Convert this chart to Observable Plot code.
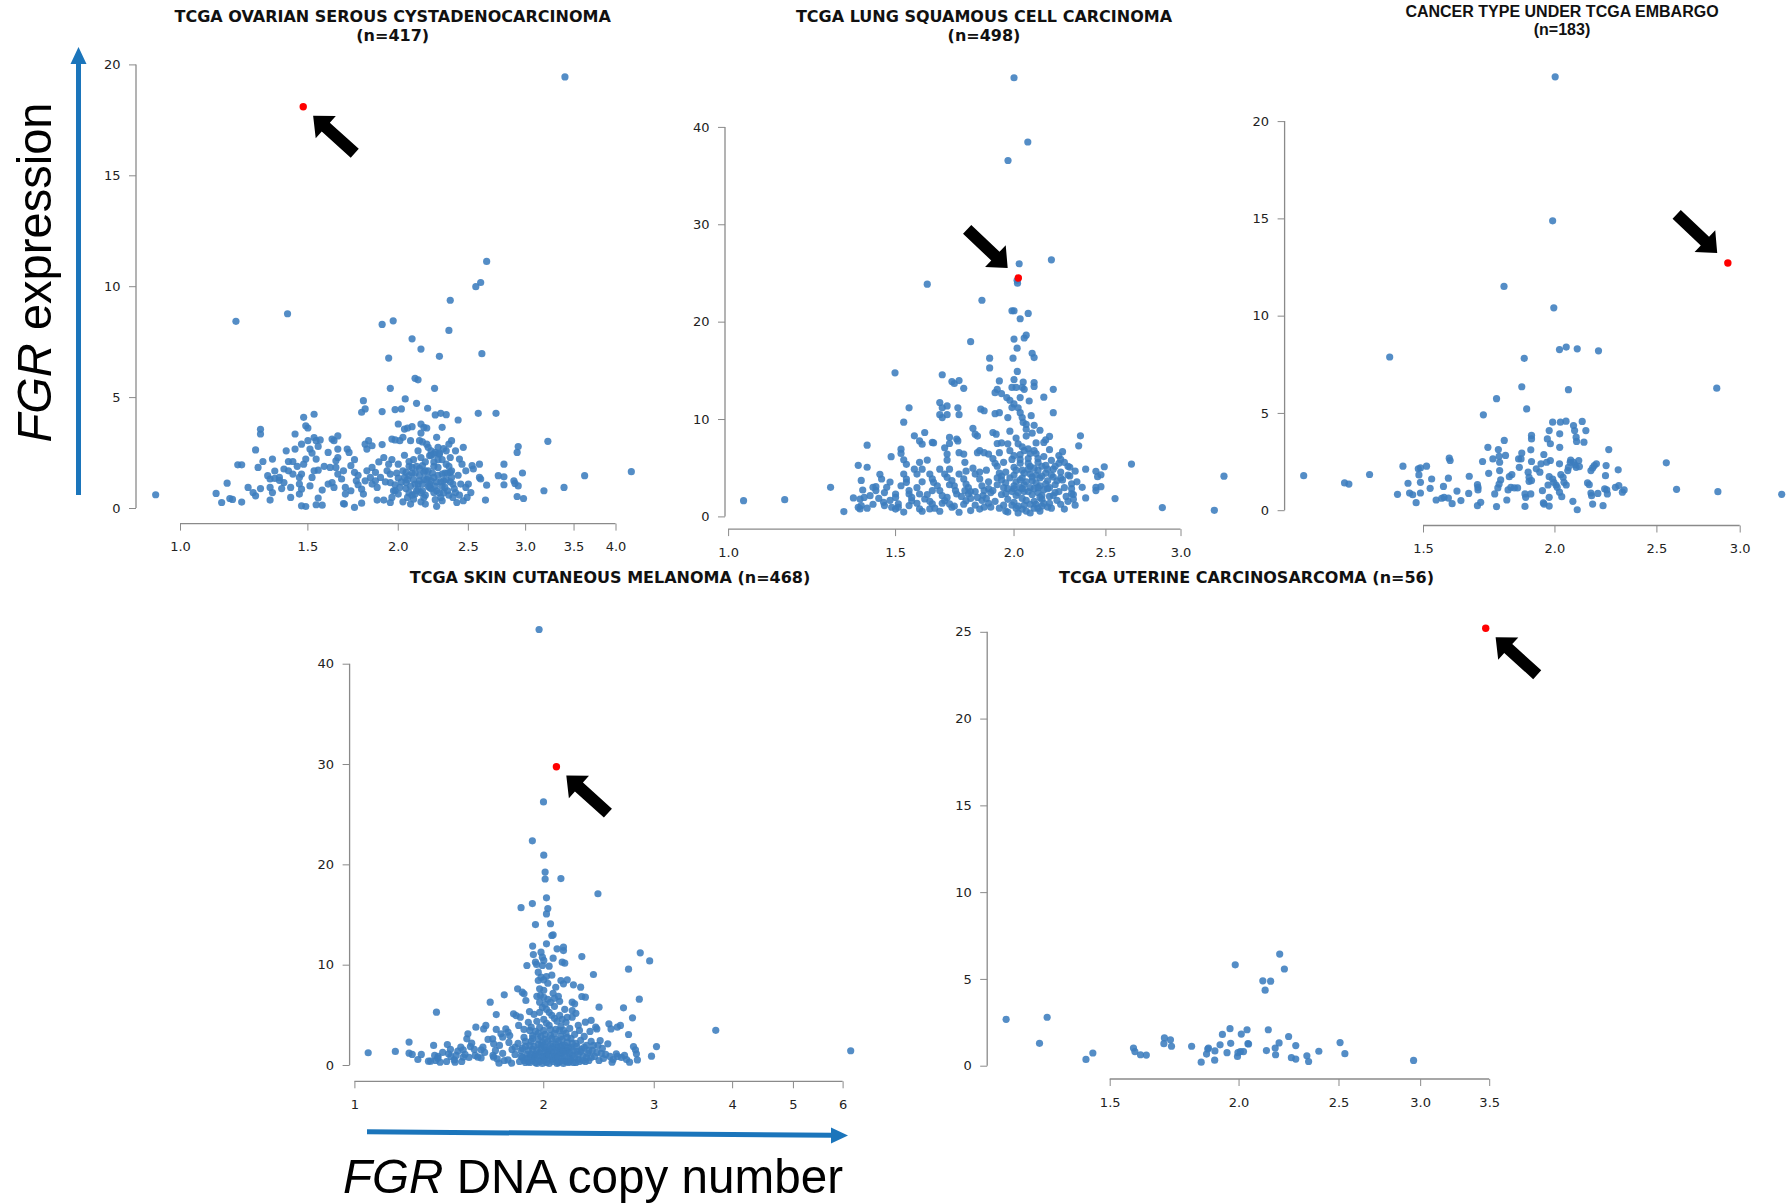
<!DOCTYPE html>
<html><head><meta charset="utf-8">
<script src="https://cdn.jsdelivr.net/npm/d3@7"></script>
<script src="https://cdn.jsdelivr.net/npm/@observablehq/plot@0.6"></script>
<style>
html,body{margin:0;padding:0;background:#fff;}
#page{position:relative;width:1787px;height:1203px;overflow:hidden;background:#fff;font-family:"DejaVu Sans",sans-serif;}
.panel{position:absolute;}
.title{position:absolute;transform:translate(-50%,-50%);white-space:nowrap;font-weight:bold;font-size:16px;color:#111;line-height:18px;}
#overlay{position:absolute;left:0;top:0;}
</style></head><body><div id="page"></div>
<script>
// ---------------- DATA: [FGR DNA copy number, FGR expression] ----------------
const ovarianPoints = [[3.40,19.46],[2.65,11.14],[2.60,10.19],[2.56,10.0],[2.36,9.39],[2.35,8.03],[2.61,6.98],[1.193,8.44],[1.406,8.78],[1.90,8.30],[1.968,8.46],[2.09,7.65],[2.15,7.19],[2.28,6.86],[1.94,6.78],
[2.11,5.87],[2.13,5.8],[1.95,5.42],[2.245,5.42],[2.045,4.94],[1.79,4.86],[1.80,4.49],[1.78,4.34],[1.90,4.37],[1.98,4.46],[2.02,4.49],[2.12,4.74],[2.196,4.52],[2.25,4.22],[2.29,4.29],[2.33,4.23],[2.42,3.99],[2.58,4.29],[2.73,4.29],
[1.48,4.11],[1.49,3.73],[1.50,3.63],[1.53,4.25],[1.29,3.57],[1.29,3.36],[1.27,2.64],[1.20,1.97],[1.215,1.97],[1.16,1.14],[1.12,0.68],[1.14,0.27],[1.17,0.45],[1.18,0.41],[1.215,0.29],[1.24,0.95],[0.924,0.62],[1.26,0.72],[1.27,0.57],[1.30,2.12],[1.28,1.85],[1.34,2.23],[1.32,1.48],[1.33,1.33],[1.35,1.36],[1.37,1.27],[1.35,1.69],[1.33,0.95],[1.34,0.72],[1.33,0.38],[1.29,0.9],
[1.40,2.6],[1.44,3.36],[1.44,2.68],[1.41,2.12],[1.43,2.12],[1.39,1.78],[1.41,1.70],[1.37,1.4],[1.39,1.17],[1.42,0.95],[1.43,1.55],[1.46,1.4],[1.47,1.55],[1.46,1.1],[1.47,0.87],[1.46,0.65],[1.47,0.12],[1.49,0.09],[1.48,2.0],[1.49,2.23],[1.50,3.06],[1.47,2.9],[1.51,2.68],[1.52,2.5],[1.53,3.2],[1.54,3.06],[1.51,1.02],[1.52,1.4],[1.54,2.23],[1.55,1.73],[1.55,2.8],[1.56,3.09],[1.55,0.47],[1.54,0.17],[1.57,0.15],[1.57,0.83],
[1.60,2.53],[1.61,1.85],[1.62,3.13],[1.63,3.06],[1.65,3.27],[1.64,2.15],[1.65,2.3],[1.64,1.85],[1.62,1.17],[1.60,1.1],[1.63,0.95],[1.65,1.55],[1.67,1.33],[1.65,2.68],[1.70,2.68],[1.68,0.22],[1.685,0.2],[1.69,0.95],[1.69,0.65],[1.71,2.53],[1.74,2.2],[1.72,1.93],[1.74,1.63],[1.74,0.05],[1.75,1.25],[1.76,1.07],[1.78,0.87],[1.79,0.65],[1.78,0.24],
[1.80,2.9],[1.81,2.68],[1.82,3.06],[1.84,2.83],[1.81,1.7],[1.83,1.4],[1.80,1.25],[1.84,1.85],[1.86,1.63],[1.87,0.95],[1.86,1.25],[1.89,1.4],[1.87,0.38],[1.91,0.38],[1.91,2.3],[1.90,2.88],[1.94,2.0],[1.93,1.7],[1.95,1.55],[1.96,2.21],[1.96,3.13],[1.98,3.09],[1.95,0.27],[1.96,0.5],[1.97,0.8],[1.95,1.17],
[2.0,3.81],[2.01,3.06],[2.03,3.21],[2.0,1.37],[1.98,1.07],[2.01,0.95],[2.0,0.65],[2.04,1.4],[2.05,1.63],[2.07,1.48],[2.05,1.17],[2.04,3.58],[2.06,3.63],[2.09,3.69],[2.08,3.06],[2.07,2.12],[2.09,1.85],[2.08,0.2],[2.1,0.42],[2.11,0.65],[2.11,1.1],[2.13,0.87],[2.14,1.25],[2.15,3.4],[2.15,3.81],[2.17,3.66],[2.14,3.06],[2.16,3.0],[2.15,2.3],[2.16,1.93],[2.17,1.63],[2.17,0.5],[2.18,0.2],[2.15,0.72],
[2.2,2.76],[2.21,2.38],[2.22,2.6],[2.24,2.45],[2.25,2.53],[2.19,3.63],[2.2,1.4],[2.22,1.25],[2.21,0.95],[2.24,0.72],[2.26,3.21],[2.27,2.76],[2.28,2.45],[2.3,3.66],
[2.27,1.85],[2.3,1.55],[2.31,1.25],[2.32,0.95],[2.29,0.5],[2.3,0.35],[2.26,0.1],[2.33,2.6],[2.35,2.9],[2.36,2.3],[2.36,1.63],[2.37,1.4],[2.38,1.1],[2.4,0.72],[2.41,0.27],[2.37,3.06],[2.4,2.6],[2.43,2.23],[2.45,2.0],[2.46,2.76],[2.48,1.7],[2.48,0.95],[2.46,0.35],[2.5,1.1],[2.52,0.72],[2.49,0.5],[2.53,1.93],[2.54,1.78],[2.59,2.0],[2.59,1.4],[2.6,1.33],[2.64,0.38],[2.65,1.05],[2.75,1.48],[2.8,2.0],[2.8,1.43],[2.8,1.07],[2.89,1.25],[2.9,1.13],[2.93,1.02],[2.92,2.53],[2.93,2.79],[2.92,0.54],[2.98,0.45],[2.97,1.6],[3.18,0.8],[3.22,3.03],[3.39,0.95],[3.62,1.48],[4.2,1.66],
[2.02,1.2],[2.05,0.9],[2.08,1.0],[2.1,1.3],[2.12,0.8],[2.14,1.5],[2.16,1.1],[2.18,0.6],[2.2,1.7],[2.22,0.9],[2.24,1.4],[2.26,1.2],[2.28,0.7],[2.3,1.0],[2.32,1.6],[2.34,0.8],[2.36,1.2],[2.38,0.5],[2.06,0.5],[2.12,1.9],[2.18,2.1],[2.24,1.9],[2.3,2.2],[2.0,2.0],[1.98,0.8],[2.15,0.3],[2.25,0.4],[2.35,1.9],[2.22,2.4],[2.28,2.5],[2.13,2.6],[2.19,2.9],[2.04,2.4],[2.1,2.2],[1.92,1.2],[1.88,2.1],[1.84,1.1],[1.76,1.5],[1.72,0.8],[1.68,1.7],[1.58,1.9],[1.53,1.7],[1.45,1.9],[1.42,0.5],[1.38,0.9],[2.42,1.5],[2.44,1.1],[2.33,2.0],[2.27,2.2],[2.21,1.1],[2.17,1.3],[2.09,1.6],[2.07,0.7],[2.03,0.3],[1.99,1.6],[2.39,0.9],[2.35,0.6],[2.43,0.6],[2.26,0.8],[2.31,2.7],
[2.03,1.7],[2.06,1.3],[2.09,0.6],[2.11,1.6],[2.13,1.1],[2.16,0.8],[2.18,1.7],[2.2,1.0],[2.23,1.6],[2.25,1.0],[2.27,1.5],[2.29,1.2],[2.31,0.7],[2.33,1.3],[2.34,1.6],[2.19,1.3],[2.14,1.8],[2.07,1.9],[2.24,2.1],[2.37,1.7]];
const ovarianHighlight = [[1.478,18.11]];

const lungPoints = [[2.0,45.1],[2.068,38.5],[1.971,36.6],[2.19,26.4],[2.025,26.0],[2.015,24.3],[2.017,24.0],[1.62,23.9],[1.85,22.25],[1.99,21.17],[2.0,21.17],[2.07,20.9],[2.03,20.35],[1.80,18.0],[2.0,18.26],[2.05,18.37],[2.06,18.66],[2.015,17.33],[2.09,16.8],[2.1,16.36],[1.885,16.3],[1.995,16.3],[1.885,15.3],[1.498,14.8],[1.68,14.6],[2.016,14.94],
[1.037,1.67],[1.146,1.77],[1.281,3.04],[1.323,0.55],[1.354,1.95],[1.37,0.99],[1.376,0.82],[1.38,1.16],[1.376,1.84],[1.39,2.0],[1.37,5.3],[1.40,5.1],[1.40,7.37],[1.38,3.75],[1.385,2.76],[1.41,2.18],[1.42,3.04],[1.43,3.1],[1.43,2.7],[1.444,4.37],[1.45,3.89],[1.457,1.5],[1.46,1.16],[1.468,3.04],[1.48,3.58],[1.484,6.18],[1.486,0.99],[1.5,2.35],[1.5,2.0],[1.51,1.33],[1.51,0.99],[1.52,6.96],[1.52,6.52],[1.53,5.87],[1.54,5.4],[1.53,9.73],[1.53,4.4],[1.54,3.89],[1.54,3.55],[1.55,2.7],[1.55,2.35],[1.56,1.67],[1.55,1.16],[1.55,11.2],[1.57,8.33],[1.59,7.8],[1.6,7.47],[1.57,4.9],[1.58,4.4],[1.59,5.6],[1.6,4.9],[1.58,3.0],[1.59,2.35],[1.61,1.84],[1.59,0.82],[1.6,0.58],[1.61,8.67],[1.62,5.84],[1.64,7.65],[1.645,7.6],[1.63,4.4],[1.64,3.9],[1.645,3.55],[1.64,2.7],[1.64,1.33],[1.63,0.82],[1.67,11.74],[1.68,11.2],[1.67,10.5],[1.68,10.2],[1.69,7.1],[1.7,6.45],[1.7,5.84],[1.71,8.16],[1.71,7.54],[1.70,11.4],[1.70,10.5],[1.72,13.9],[1.73,13.7],[1.75,14.0],[1.745,11.2],[1.75,10.5],[1.74,8.0],[1.745,7.8],[1.67,4.9],[1.69,4.4],[1.70,4.06],[1.71,4.9],[1.72,3.72],[1.73,3.2],[1.735,2.7],[1.74,2.35],[1.67,2.7],[1.68,2.18],[1.69,1.67],[1.71,1.33],[1.72,0.99],[1.75,0.48],[1.67,0.58],[1.75,6.6],[1.77,6.45],[1.775,5.6],[1.77,13.2],[1.75,4.4],[1.77,3.9],[1.78,3.38],[1.775,2.7],[1.79,2.35],[1.78,1.67],[1.80,0.65],[1.81,9.1],[1.82,8.5],[1.83,8.3],[1.84,6.8],[1.83,6.6],[1.86,6.6],[1.88,6.45],[1.845,11.06],[1.86,10.9],
[1.81,5.0],[1.82,4.4],[1.84,3.9],[1.85,3.2],[1.86,2.7],[1.855,2.2],[1.85,1.7],[1.86,1.0],[1.83,2.0],[1.82,1.2],[1.88,3.6],[1.87,4.8],[1.89,2.5],[1.88,1.4],
[1.9,8.67],[1.915,8.5],[1.92,7.54],[1.94,7.6],[1.91,10.6],[1.93,10.7],[1.97,10.2],[1.91,12.76],[1.92,13.1],[1.94,12.66],[1.93,13.96],[1.965,12.25],[1.98,11.98],[1.99,11.23],[2.0,11.6],[1.99,13.3],[2.01,13.3],[2.0,14.1],[2.03,12.25],[2.04,13.3],[2.045,13.85],[2.05,13.1],[2.02,11.2],[2.03,10.7],[2.04,10.2],[2.045,9.7],[2.06,9.5],[2.075,11.9],[2.085,10.4],[2.1,9.4],[2.1,13.8],[2.1,13.4],[2.15,12.3],[2.2,13.1],[2.2,10.7],[2.18,8.26],[2.15,7.65],
[1.9,6.0],[1.92,5.2],[1.93,4.5],[1.94,3.8],[1.95,3.0],[1.96,2.4],[1.97,1.8],[1.95,1.2],[1.96,0.6],[1.98,6.8],[1.99,5.9],[2.0,5.1],[2.0,4.3],[2.01,3.6],[2.0,2.9],[2.01,2.2],[2.0,1.5],[2.01,0.9],[2.02,7.5],[2.03,6.4],[2.03,5.5],[2.04,4.8],[2.04,4.0],[2.05,3.3],[2.05,2.6],[2.04,1.9],[2.05,1.2],[2.06,0.6],[2.06,8.3],[2.07,7.0],[2.07,6.0],[2.08,5.2],[2.08,4.4],[2.09,3.7],[2.08,3.0],[2.09,2.3],[2.1,1.6],[2.1,0.9],[2.11,7.6],[2.11,6.5],[2.12,5.6],[2.12,4.8],[2.13,4.0],[2.13,3.2],[2.12,2.5],[2.14,1.8],[2.14,1.1],[2.15,6.2],[2.16,5.3],[2.16,4.5],[2.17,3.7],[2.17,2.9],[2.18,2.1],[2.18,1.4],[2.19,5.8],[2.2,4.9],[2.2,4.1],[2.21,3.3],[2.21,2.5],[2.22,1.7],[2.23,5.5],[2.24,4.6],[2.25,3.8],[2.26,3.0],[2.27,2.1],[2.28,5.2],[2.29,4.2],[2.3,3.4],[2.3,2.4],[2.31,1.8],[1.98,8.8],[2.01,8.1],[2.04,7.2],[1.97,7.5],[1.93,6.6],[1.91,5.5],[1.94,4.2],[1.92,3.3],[1.9,2.7],[1.91,1.6],[1.93,0.9],[1.97,0.5],[2.02,0.4],[2.08,0.4],[2.13,0.6],[2.19,0.9],[2.24,1.3],[2.26,0.8],[2.32,1.2],[2.28,1.6],[2.06,9.0],[2.09,8.6],[2.13,8.9],[2.16,7.9],[2.1,6.8],[2.23,6.3],[2.25,6.7],[2.18,6.9],[2.14,2.2],[2.11,3.5],[2.07,4.9],[2.03,3.0],[1.99,2.6],[1.96,4.6],
[2.35,8.33],[2.34,7.3],[2.24,5.9],[2.26,5.6],[2.29,5.1],[2.32,4.7],[2.28,4.3],[2.33,3.6],[2.3,2.9],[2.31,2.3],[2.38,4.9],[2.36,3.04],[2.38,1.95],[2.44,4.68],[2.45,4.13],[2.47,4.33],[2.49,5.15],[2.44,3.04],[2.47,3.1],[2.44,2.7],[2.556,1.88],[2.66,5.43],[2.867,0.96],[3.253,0.68],[3.33,4.18],
[1.52,3.2],[1.56,2.0],[1.58,1.4],[1.6,3.6],[1.62,2.3],[1.63,1.6],[1.65,0.9],[1.66,3.2],[1.68,1.4],[1.7,2.0],[1.71,3.3],[1.73,1.1],[1.76,2.1],[1.77,1.3],[1.78,4.7],[1.79,3.0],[1.8,1.9],[1.82,2.6],[1.84,0.8],[1.87,1.9],[1.89,1.0],[1.48,1.7],[1.46,2.5],[1.44,1.9],[1.42,1.3],[1.4,0.9],[1.5,0.8],[1.53,0.5],
[1.95,5.6],[1.96,3.5],[1.97,2.9],[1.98,4.0],[1.99,1.2],[2.0,6.3],[2.0,3.2],[2.01,4.8],[2.02,2.5],[2.02,1.1],[2.03,5.9],[2.03,3.8],[2.04,2.9],[2.05,6.8],[2.05,4.5],[2.06,1.7],[2.06,3.6],[2.07,2.6],[2.07,5.5],[2.08,1.3],[2.08,6.5],[2.09,4.1],[2.1,2.9],[2.1,5.0],[2.11,1.3],[2.11,4.3],[2.12,3.0],[2.12,6.0],[2.13,2.0],[2.14,4.2],[2.14,5.2],[2.15,2.8],[2.15,1.4],[2.16,3.4],[2.17,4.9],[2.18,3.0],[2.19,4.3],[2.2,2.2],[2.21,5.2],[2.22,3.7],[2.23,2.6],[2.24,4.0],[2.17,1.0],[2.12,0.9],[2.04,0.8],[1.94,2.3],[1.92,4.0],[1.88,2.9],[1.84,4.6],[1.8,2.6]];
const lungHighlight = [[2.021,24.53]];

const embargoPoints = [[2.001,22.3],[1.99,14.9],[1.789,11.53],[1.995,10.43],[2.02,8.28],[2.05,8.41],[2.10,8.32],[2.20,8.22],[1.393,7.9],[1.87,7.83],[1.86,6.37],[2.06,6.22],[2.85,6.3],[1.76,5.76],[1.88,5.23],[1.71,4.93],
[1.154,1.8],[1.262,1.43],[1.274,1.37],[1.333,1.86],[1.417,0.84],[1.434,2.29],[1.45,1.41],[1.455,0.91],[1.465,0.82],[1.476,0.41],[1.483,2.15],[1.49,2.2],[1.485,1.84],[1.49,1.46],[1.49,0.91],[1.51,2.29],[1.522,1.15],[1.527,1.63],[1.542,0.55],[1.561,0.64],[1.569,0.69],[1.584,0.65],[1.567,1.25],[1.584,1.67],[1.587,2.7],[1.59,2.58],[1.597,0.36],[1.614,1.01],[1.628,0.52],[1.656,0.89],[1.658,1.77],[1.688,1.34],[1.69,1.2],[1.69,1.07],[1.688,0.26],[1.70,0.43],[1.707,2.53],[1.727,3.26],[1.73,1.92],[1.746,2.66],[1.753,0.86],[1.76,0.21],[1.767,3.14],[1.77,2.8],[1.772,2.49],[1.772,2.06],[1.776,1.58],[1.77,1.37],[1.765,1.17],[1.79,3.61],[1.795,2.84],[1.80,0.55],[1.805,1.07],[1.816,1.2],[1.81,1.75],[1.82,1.86],[1.83,1.17],[1.843,1.17],[1.847,2.66],[1.85,2.23],[1.857,2.66],[1.86,2.96],[1.873,0.86],[1.876,0.69],[1.873,0.22],[1.886,1.98],[1.89,1.72],[1.89,1.51],[1.90,3.87],[1.90,3.69],[1.897,3.13],[1.90,2.53],[1.90,1.55],[1.897,0.86],[1.92,2.15],[1.935,1.98],[1.94,2.41],[1.946,1.03],[1.95,0.4],[1.953,0.34],[1.952,2.89],[1.964,2.49],[1.967,3.69],[1.975,4.12],[1.98,3.44],[1.98,2.58],[1.975,1.75],[1.97,1.32],[1.975,0.69],[1.975,0.24],[1.99,4.55],[1.99,1.63],[1.995,1.46],[2.005,1.32],[2.01,1.2],[2.021,3.95],[2.021,3.26],[2.024,4.55],[2.02,2.41],[2.026,1.86],[2.02,0.95],[2.03,0.72],[2.036,1.72],[2.04,1.46],[2.049,4.6],[2.05,1.32],[2.057,2.06],[2.06,2.23],[2.068,2.49],[2.07,2.6],[2.08,0.48],[2.083,4.38],[2.088,4.12],[2.095,3.78],[2.097,3.56],[2.083,2.49],[2.09,2.35],[2.095,2.23],[2.1,0.05],[2.107,2.58],[2.11,2.27],[2.123,4.59],[2.131,3.52],[2.14,4.12],[2.148,1.43],[2.156,1.34],[2.164,0.91],[2.167,0.77],[2.172,0.34],[2.164,2.06],[2.172,2.2],[2.18,2.32],[2.19,2.41],[2.197,0.89],[2.222,0.26],[2.23,1.12],[2.24,1.07],[2.237,2.32],[2.234,1.8],[2.243,0.86],[2.25,3.14],[2.283,1.2],[2.297,2.1],[2.3,1.29],[2.318,0.95],[2.327,1.07],[2.552,2.46],[2.61,1.1],[2.857,0.98],[3.285,0.84]];
const embargoHighlight = [[2.92,12.73]];

const melanomaPoints = [[1.966,43.46],[1.998,26.27],[1.918,22.39],[2.0,20.96],[2.01,19.28],[2.01,18.59],[2.13,18.63],[2.44,17.12],[1.918,16.14],[1.84,15.73],[2.02,16.71],[2.03,15.65],[2.02,15.11],[1.94,14.05],[2.05,14.13],[2.07,13.03],[2.85,11.23],[2.95,10.42],[2.73,9.6],[3.76,3.51],[6.17,1.47],[1.05,1.27],
[1.16,1.4],[1.22,2.33],[1.22,1.23],[1.234,1.1],[1.276,1.1],[1.31,0.43],[1.32,0.43],[1.335,2.0],[1.345,0.5],[1.349,5.32],[1.357,0.9],[1.367,0.33],[1.355,0.73],[1.40,0.4],[1.404,2.09],[1.41,1.16],[1.422,0.9],[1.44,0.56],[1.444,0.33],[1.459,1.43],[1.475,1.83],[1.488,1.56],[1.488,0.83],[1.498,1.1],[1.508,2.66],[1.514,3.16],[1.528,1.89],[1.535,2.23],[1.555,1.0],[1.559,3.82],[1.57,0.83],[1.589,1.56],[1.6,1.83],[1.589,0.76],[1.604,3.65],[1.617,3.99],[1.643,6.31],[1.658,2.66],[1.664,2.16],[1.675,1.5],[1.664,0.83],[1.686,0.66],[1.697,0.23],[1.68,5.08],[1.709,3.16],[1.72,2.82],[1.73,7.04],[1.74,3.65],[1.754,3.32],[1.765,2.99],[1.73,0.5],[1.754,0.56],[1.777,0.23],[1.79,5.15],[1.80,1.83],[1.807,4.98],[1.817,7.64],[1.824,3.99],[1.835,4.82],[1.848,7.31],[1.86,7.14],[1.873,6.48],[1.898,5.38],[1.91,3.82],[1.92,2.99],[1.88,9.97],[1.92,11.9],[1.925,11.06],[1.94,10.3],[1.948,10.07],[1.96,8.47],[1.97,7.64],[1.975,6.98],[1.97,6.31],[1.98,11.3],[1.99,10.8],[2.0,10.47],[1.99,9.97],[1.98,8.8],[2.0,8.54],[2.02,8.87],[2.02,12.13],[2.06,12.96],[2.1,11.63],[2.15,11.8],[2.15,11.46],[2.14,10.3],[2.16,10.2],[2.13,8.47],[2.15,8.14],[2.18,8.54],[2.23,8.04],[2.29,7.81],[2.3,6.88],[2.33,6.81],[2.22,6.31],[2.24,6.15],[2.22,5.48],[2.22,4.82],[2.30,10.86],[2.33,4.32],[2.38,4.49],[2.4,9.07],[2.45,5.81],[2.42,3.82],[2.43,3.65],[2.46,2.49],[2.53,2.16],[2.54,4.15],[2.56,3.65],[2.57,0.33],[2.62,3.82],[2.65,3.99],[2.68,5.75],[2.73,3.09],[2.77,4.75],[2.84,6.61],[2.61,1.16],[2.62,0.9],[2.69,1.0],[2.71,0.6],[2.74,0.33],[2.78,1.89],[2.8,1.56],[2.81,1.16],[2.82,0.56],[2.97,0.93],[3.025,1.89],
[1.82,2.2],[1.84,1.5],[1.85,0.8],[1.86,2.8],[1.87,1.9],[1.88,1.1],[1.89,0.4],[1.9,3.5],[1.91,2.4],[1.92,1.6],[1.93,0.9],[1.94,0.3],[1.95,4.4],[1.96,3.2],[1.96,2.1],[1.97,1.3],[1.98,0.6],[1.99,5.8],[2.0,4.6],[2.0,3.5],[2.01,2.6],[2.01,1.8],[2.02,1.0],[2.02,0.3],[2.03,6.6],[2.04,5.3],[2.04,4.0],[2.05,3.0],[2.05,2.1],[2.06,1.4],[2.06,0.6],[2.07,7.2],[2.08,5.9],[2.08,4.7],[2.09,3.6],[2.09,2.6],[2.1,1.8],[2.1,1.0],[2.11,0.3],[2.12,6.4],[2.12,5.0],[2.13,3.9],[2.13,2.9],[2.14,2.0],[2.14,1.2],[2.15,0.5],[2.16,5.6],[2.17,4.3],[2.17,3.2],[2.18,2.3],[2.18,1.5],[2.19,0.8],[2.2,3.7],[2.21,2.7],[2.21,1.8],[2.22,1.0],[2.23,0.3],[2.24,3.1],[2.25,2.2],[2.26,1.4],[2.27,0.6],[2.28,3.5],[2.29,2.5],[2.3,1.6],[2.31,0.9],[2.32,2.9],[2.34,2.0],[2.35,1.2],[2.36,0.5],[2.38,2.4],[2.39,1.5],[2.41,0.9],[2.43,1.3],[2.45,0.5],[2.47,1.2],[2.49,0.7],[2.51,1.1],[1.95,6.9],[2.0,7.5],[2.03,8.2],[2.06,9.0],[2.09,7.8],[2.11,6.9],[2.04,9.9],[2.07,10.7],[1.96,9.3],[2.01,6.1],[1.93,5.1],[1.89,4.3],[1.86,3.6],[1.83,0.4],[1.8,1.1],[1.78,1.6],[1.76,2.3],[1.72,1.2],[1.7,2.0],[1.68,3.6],[1.66,1.0],[1.63,2.6],[1.61,1.3],[1.55,1.6],[1.52,0.8],[1.48,0.4],[1.45,1.0],[1.42,1.6],[1.38,1.3],[1.34,1.0],[1.26,0.6],[2.18,4.8],[2.25,5.2],[2.15,3.5],[2.2,0.4],[2.33,0.4],[2.4,2.0],[2.27,4.0],[2.12,1.5],[2.08,0.8],[2.03,1.4],[1.98,2.0],[1.94,1.1],[1.9,0.9],[1.87,0.3],[2.37,3.4],[2.44,2.0],[2.48,1.7],[2.55,0.9],[2.58,0.6],[2.66,0.8],
[1.84,0.9],[1.85,1.7],[1.86,0.5],[1.87,2.4],[1.88,0.7],[1.89,1.5],[1.9,0.3],[1.9,2.0],[1.91,1.1],[1.92,0.5],[1.92,2.7],[1.93,1.9],[1.94,0.7],[1.94,3.4],[1.95,1.5],[1.95,0.2],[1.96,2.6],[1.96,1.0],[1.97,0.4],[1.97,3.8],[1.98,1.7],[1.98,2.9],[1.99,0.9],[1.99,0.2],[1.99,2.3],[2.0,1.3],[2.0,0.5],[2.0,2.0],[2.01,3.1],[2.01,0.8],[2.02,1.5],[2.02,4.2],[2.03,0.6],[2.03,2.4],[2.04,1.1],[2.04,0.2],[2.05,1.7],[2.05,3.6],[2.06,0.9],[2.06,2.7],[2.07,0.4],[2.07,1.9],[2.08,1.3],[2.08,3.2],[2.09,0.6],[2.09,2.1],[2.1,0.2],[2.1,1.4],[2.11,2.4],[2.11,0.8],[2.12,3.5],[2.12,0.4],[2.13,1.2],[2.13,1.9],[2.14,0.7],[2.14,2.6],[2.15,1.5],[2.15,0.2],[2.16,2.0],[2.16,0.9],[2.17,1.4],[2.17,0.4],[2.18,2.8],[2.19,1.8],[2.19,0.3],[2.2,1.2],[2.21,0.6],[2.22,2.2],[2.23,1.5],[2.24,0.8],[2.25,0.3],[2.26,1.9],[2.27,1.1],[2.28,0.4],[2.29,1.4],[2.31,0.5],[2.32,1.8],[2.34,0.8],[2.36,1.5],[2.38,0.8],[2.0,6.8],[2.02,5.6],[2.05,6.3],[2.08,6.7],[1.97,5.3],[2.1,4.4],[2.14,4.6],[2.06,5.0]];
const melanomaHighlight = [[2.095,29.78]];

const uterinePoints = [[1.189,2.7],[1.303,2.82],[1.281,1.32],[1.421,0.39],[1.443,0.76],[1.58,1.05],[1.585,0.84],[1.605,0.66],[1.626,0.64],[1.693,1.63],[1.691,1.3],[1.716,1.52],[1.72,1.15],[1.799,1.15],[1.838,0.23],[1.86,0.7],[1.865,0.99],[1.868,1.05],[1.894,0.35],[1.895,0.88],[1.917,1.23],[1.927,1.83],[1.947,0.78],[1.96,2.16],[1.963,1.32],[1.983,5.84],[1.993,0.56],[1.995,0.78],[2.01,1.85],[2.006,0.84],[2.02,0.84],[2.036,2.1],[2.04,1.3],[2.043,1.28],[2.109,4.92],[2.12,4.38],[2.126,0.9],[2.135,2.1],[2.146,4.9],[2.168,1.05],[2.17,0.66],[2.187,1.34],[2.19,6.46],[2.213,5.6],[2.234,1.71],[2.248,0.49],[2.27,1.19],[2.27,0.41],[2.327,0.6],[2.336,0.27],[2.39,0.86],[2.506,1.36],[2.533,0.72],[2.953,0.33]];
const uterineHighlight = [[3.469,25.23]];

// tick values
const ovarianXTicks = [1, 1.5, 2, 2.5, 3, 3.5, 4];
const ovarianYTicks = [0, 5, 10, 15, 20];
const lungXTicks = [1, 1.5, 2, 2.5, 3];
const lungYTicks = [0, 10, 20, 30, 40];
const embargoXTicks = [1.5, 2, 2.5, 3];
const embargoYTicks = [0, 5, 10, 15, 20];
const melanomaXTicks = [1, 2, 3, 4, 5, 6];
const melanomaYTicks = [0, 10, 20, 30, 40];
const uterineXTicks = [1.5, 2, 2.5, 3, 3.5];
const uterineYTicks = [0, 5, 10, 15, 20, 25];

// titles
const ovarianTitle = ["TCGA OVARIAN SEROUS CYSTADENOCARCINOMA", "(n=417)"];
const lungTitle = ["TCGA LUNG SQUAMOUS CELL CARCINOMA", "(n=498)"];
const embargoTitle = ["CANCER TYPE UNDER TCGA EMBARGO", "(n=183)"];
const melanomaTitle = ["TCGA SKIN CUTANEOUS MELANOMA (n=468)"];
const uterineTitle = ["TCGA UTERINE CARCINOSARCOMA (n=56)"];

const yAxisLabel = ["FGR", " expression"];
const xAxisLabel = ["FGR", " DNA copy number"];

// ---------------- LAYOUT ----------------
const panels = [
  {data: ovarianPoints, hl: ovarianHighlight, xTicks: ovarianXTicks, yTicks: ovarianYTicks, fmt: ".1f", arrow: "ul", title: ovarianTitle,
   box: {left: 90, top: 40, width: 560, height: 510}, yAxisX: 136, xAxisY: 523.6, xPx: [180, 615.5], yPx: [508, 64.4],
   titleX: 392.7, titleY: [17, 35.5], titleFont: "DejaVu Sans"},
  {data: lungPoints, hl: lungHighlight, xTicks: lungXTicks, yTicks: lungYTicks, fmt: ".1f", arrow: "dr", title: lungTitle,
   box: {left: 680, top: 40, width: 560, height: 520}, yAxisX: 725, xAxisY: 529.1, xPx: [728.1, 1180.5], yPx: [516.4, 126.9],
   titleX: 984, titleY: [17, 35.5], titleFont: "DejaVu Sans"},
  {data: embargoPoints, hl: embargoHighlight, xTicks: embargoXTicks, yTicks: embargoYTicks, fmt: ".1f", arrow: "dr", title: embargoTitle,
   box: {left: 1245, top: 40, width: 542, height: 520}, yAxisX: 1284.6, xAxisY: 525.5, xPx: [1423, 1739.7], yPx: [510.2, 121.1],
   titleX: 1562, titleY: [11.5, 30], titleFont: "Liberation Sans"},
  {data: melanomaPoints, hl: melanomaHighlight, xTicks: melanomaXTicks, yTicks: melanomaYTicks, fmt: "d", arrow: "ul", title: melanomaTitle,
   box: {left: 300, top: 600, width: 570, height: 520}, yAxisX: 349.6, xAxisY: 1081.3, xPx: [354.4, 842.6], yPx: [1065, 663.7],
   titleX: 610, titleY: [578], titleFont: "DejaVu Sans"},
  {data: uterinePoints, hl: uterineHighlight, xTicks: uterineXTicks, yTicks: uterineYTicks, fmt: ".1f", arrow: "ul", title: uterineTitle,
   box: {left: 930, top: 600, width: 620, height: 520}, yAxisX: 987.2, xAxisY: 1079, xPx: [1109.7, 1489.2], yPx: [1065.7, 631.8],
   titleX: 1246.5, titleY: [578], titleFont: "DejaVu Sans"}
];

const page = document.getElementById("page");

function axisLines(xTicks, yTicks) {
  return (index, scales, values, dims) => {
    const {x, y} = scales;
    const yb = dims.height - dims.marginBottom;
    const g = d3.create("svg:g").attr("stroke", "#8a8a8a").attr("stroke-width", 1.3).attr("fill", "none");
    g.append("line").attr("x1", x(xTicks[0])).attr("x2", x(xTicks[xTicks.length - 1])).attr("y1", yb).attr("y2", yb);
    g.append("line").attr("x1", dims.marginLeft).attr("x2", dims.marginLeft).attr("y1", y(yTicks[0])).attr("y2", y(yTicks[yTicks.length - 1]));
    return g.node();
  };
}

function blockArrow(hl, dir) {
  return (index, scales) => {
    const {x, y} = scales;
    const px = x(hl[0][0]), py = y(hl[0][1]);
    const u = dir === "ul" ? [-0.743, -0.670] : [0.724, 0.689];
    const n = [-u[1], u[0]];
    const gap = 14, L = 56, hl2 = 17, hw = 15, sw = 6;
    const tip = [px - u[0] * gap, py - u[1] * gap];
    const local = [[0, 0], [hl2, hw], [hl2, sw], [L, sw], [L, -sw], [hl2, -sw], [hl2, -hw]];
    const pts = local.map(([a, p]) => [tip[0] - u[0] * a + n[0] * p, tip[1] - u[1] * a + n[1] * p]);
    const g = d3.create("svg:g");
    g.append("polygon").attr("points", pts.map(d => d.join(",")).join(" ")).attr("fill", "#000");
    return g.node();
  };
}

for (const p of panels) {
  const {left, top, width, height} = p.box;
  const chart = Plot.plot({
    width, height,
    marginLeft: p.yAxisX - left,
    marginRight: 0,
    marginTop: 0,
    marginBottom: top + height - p.xAxisY,
    x: {type: "log", domain: [p.xTicks[0], p.xTicks[p.xTicks.length - 1]], range: [p.xPx[0] - left, p.xPx[1] - left]},
    y: {type: "linear", domain: [p.yTicks[0], p.yTicks[p.yTicks.length - 1]], range: [p.yPx[0] - top, p.yPx[1] - top]},
    style: {fontFamily: "DejaVu Sans, sans-serif", fontSize: "13px", color: "#222", background: "transparent", overflow: "visible"},
    marks: [
      Plot.axisX({ticks: p.xTicks, tickFormat: d3.format(p.fmt), tickSize: 7, tickPadding: 11, stroke: "#8a8a8a", fill: "#222", fontSize: 13, label: null}),
      Plot.axisY({ticks: p.yTicks, tickFormat: d3.format("d"), tickSize: 7, tickPadding: 9, stroke: "#8a8a8a", fill: "#222", fontSize: 13, label: null}),
      axisLines(p.xTicks, p.yTicks),
      Plot.dot(p.data, {x: d => d[0], y: d => d[1], r: 3.6, fill: "#3c7dbe", fillOpacity: 0.88, stroke: "none"}),
      Plot.dot(p.hl, {x: d => d[0], y: d => d[1], r: 3.7, fill: "#ff0000", stroke: "none"}),
      blockArrow(p.hl, p.arrow)
    ]
  });
  const wrap = document.createElement("div");
  wrap.className = "panel";
  wrap.style.left = left + "px";
  wrap.style.top = top + "px";
  wrap.appendChild(chart);
  page.appendChild(wrap);

  p.title.forEach((line, i) => {
    const t = document.createElement("div");
    t.className = "title";
    t.textContent = line;
    t.style.left = p.titleX + "px";
    t.style.top = p.titleY[i] + "px";
    t.style.fontFamily = `"${p.titleFont}", sans-serif`;
    page.appendChild(t);
  });
}

// Overlay: big axis titles and blue arrows
const ov = d3.select(page).append("svg").attr("id", "overlay").attr("width", 1787).attr("height", 1203);
const blue = "#1b75bb";
ov.append("line").attr("x1", 78.5).attr("x2", 78.5).attr("y1", 495).attr("y2", 62).attr("stroke", blue).attr("stroke-width", 5);
ov.append("polygon").attr("points", "78.5,47 70.5,64 86.5,64").attr("fill", blue);
ov.append("line").attr("x1", 367).attr("y1", 1131.8).attr("x2", 832).attr("y2", 1135.3).attr("stroke", blue).attr("stroke-width", 5);
ov.append("polygon").attr("points", "848,1135.5 831,1127.5 831,1143.5").attr("fill", blue);

const yl = ov.append("text").attr("transform", "translate(51,272.5) rotate(-90)")
  .attr("text-anchor", "middle").attr("font-family", "Liberation Sans, Arial, sans-serif").attr("font-size", 49)
  .attr("textLength", 340).attr("lengthAdjust", "spacingAndGlyphs").attr("fill", "#000");
yl.append("tspan").attr("font-style", "italic").text(yAxisLabel[0]);
yl.append("tspan").text(yAxisLabel[1]);

const xl = ov.append("text").attr("x", 343).attr("y", 1193)
  .attr("font-family", "Liberation Sans, Arial, sans-serif").attr("font-size", 49)
  .attr("textLength", 500).attr("lengthAdjust", "spacingAndGlyphs").attr("fill", "#000");
xl.append("tspan").attr("font-style", "italic").text(xAxisLabel[0]);
xl.append("tspan").text(xAxisLabel[1]);
</script>
</body></html>
